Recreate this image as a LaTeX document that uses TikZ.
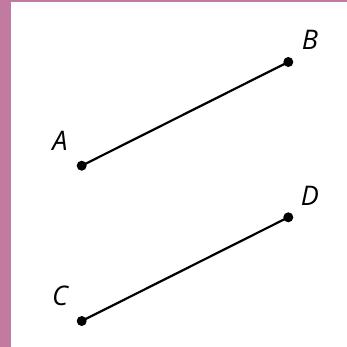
\documentclass[tikz,border=0pt]{standalone}
\usepackage{fontspec}
\setmainfont{Open Sans}
\definecolor{frame}{HTML}{C27BA0}
\begin{document}
\begin{tikzpicture}[x=1pt,y=-1pt,
  pt/.style={circle,fill=black,inner sep=0pt,minimum size=10pt},
  lab/.style={font=\fontsize{27}{30}\selectfont\itshape,inner sep=0pt},
  seg/.style={line width=2.2pt}]
\useasboundingbox (0,0) rectangle (347,347);
\fill[white] (0,0) rectangle (347,347);
\fill[frame] (0,0) rectangle (11,347);
\fill[frame] (0,0) rectangle (347,2.5);
\node[pt] (A) at (81.7,165.7) {};
\node[pt] (B) at (288.3,62) {};
\node[pt] (C) at (81.7,321) {};
\node[pt] (D) at (288.3,217.3) {};
\draw[seg] (A.center) -- (B.center);
\draw[seg] (C.center) -- (D.center);
\node[lab] (la) at (60,141) {A};
\node[lab] (lb) at (310,40) {B};
\node[lab] (lc) at (60,296) {C};
\node[lab] (ld) at (310,196) {D};
\end{tikzpicture}
\end{document}
